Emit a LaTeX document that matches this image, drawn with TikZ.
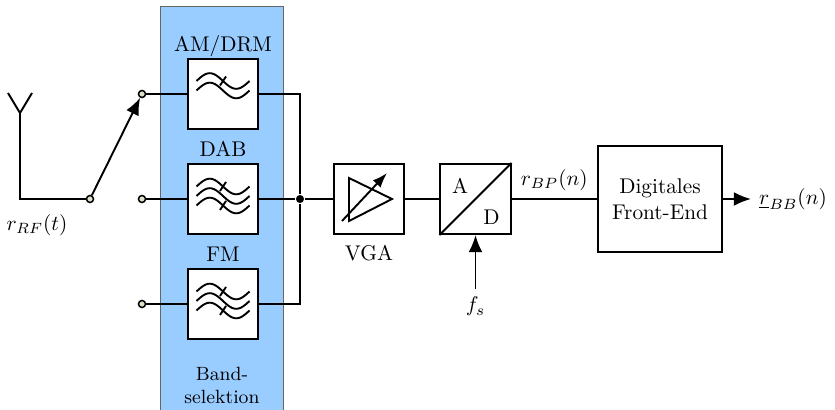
\documentclass[tikz,border=0pt]{standalone}
\usetikzlibrary{arrows.meta}

\definecolor{bandblue}{RGB}{153,204,255}
\definecolor{termfill}{RGB}{224,224,200}

\tikzset{
  block/.style={draw,fill=white,minimum size=33pt,inner sep=0pt},
  term/.style={circle,draw,fill=termfill,minimum size=3.3pt,inner sep=0pt,line width=0.7pt},
  junc/.style={circle,fill,minimum size=3.8pt,inner sep=0pt},
  sig/.style={-{Latex[length=8pt,width=6.5pt]}},
  bandlbl/.style={anchor=base,inner sep=0pt},
  wave/.pic={\draw[domain=0:360,samples=37,smooth,variable=\t]
      plot ({-26.5+\t/360*53},{-7.8*sin(\t)});},
  cut/.pic={\draw (-3,4.5) -- (3,-4.5);}
}

\begin{document}
\begin{tikzpicture}[x=0.47pt,y=-0.47pt,line width=0.9pt]
  \useasboundingbox (0,0) rectangle (835,409);
  % band selection background
  \fill[bandblue,draw=black!60,line width=0.4pt] (160,6) rectangle (283,412);
  \node[font=\small,align=center,anchor=north] (bsel) at (222,359) {Band-\\selektion};

  % filters
  \node[block] (am)  at (223,94)  {};
  \node[block] (dab) at (223,199) {};
  \node[block] (fm)  at (223,304) {};
  \node[bandlbl] (amlbl)  at ([yshift=3pt]am.north)  {AM/DRM};
  \node[bandlbl] (dablbl) at ([yshift=3pt]dab.north) {DAB};
  \node[bandlbl] (fmlbl)  at ([yshift=3pt]fm.north)  {FM};
  \begin{scope}[shift={(am.center)}]
    \pic at (0,-13) {wave};
    \pic at (0,-3.5) {wave};
    \pic at (0,-13) {cut};
  \end{scope}
  \foreach \f in {dab,fm} {
    \begin{scope}[shift={(\f.center)}]
      \pic at (0,-12.5) {wave};
      \pic at (0,-3) {wave};
      \pic at (0,6.5) {wave};
      \pic at (0,-12.5) {cut};
      \pic at (0,6.5) {cut};
    \end{scope}
  }

  % antenna and switch
  \coordinate (ant) at (20,113);
  \draw (8,93) -- (ant) -- (32,93);
  \node[term] (sw) at (90,199) {};
  \node[term] (t1) at (142,94)  {};
  \node[term] (t2) at (142,199) {};
  \node[term] (t3) at (142,304) {};
  \draw (sw) -| (ant);
  \draw[sig] (sw) -- (t1);
  \node[below] (rrf) at (37,206) {$r_{RF}(t)$};
  \draw (t1) -- (am);
  \draw (t2) -- (dab);
  \draw (t3) -- (fm);

  % summing point
  \node[junc] (sum) at (300,199) {};
  \draw (am) -| (sum);
  \draw (fm) -| (sum);
  \draw (dab) -- (sum);

  % VGA
  \node[block] (vga) at (369,199) {};
  \node[below=1pt] (vgalbl) at (vga.south) {VGA};
  \begin{scope}[shift={(vga.center)}]
    \draw (-20,-21) -- (-20,22) -- (23,0) -- cycle;
    \draw[-{Latex[length=7pt,width=5pt]}] (-27,22) -- (18,-26);
  \end{scope}
  \draw (sum) -- (vga);

  % A/D converter
  \node[block] (adc) at (475.5,199) {};
  \draw (adc.south west) -- (adc.north east);
  \node (adcA) at (460,186) {A};
  \node (adcD) at (491.5,217) {D};
  \draw (vga) -- (adc);
  \node[below=1pt] (fs) at (475.5,287) {$f_s$};
  \draw[sig] (fs) -- (adc);

  % digital front end
  \node[block,minimum width=58.3pt,minimum height=49.4pt,align=center] (dfe)
      at (660,199) {Digitales\\Front-End};
  \draw (adc) -- node[above] (rbp) {$r_{BP}(n)$} (dfe);
  \node[anchor=west] (rbb) at (751,199) {$\underline{r}_{BB}(n)$};
  \draw[sig] (dfe) -- (rbb);
\end{tikzpicture}
\end{document}
